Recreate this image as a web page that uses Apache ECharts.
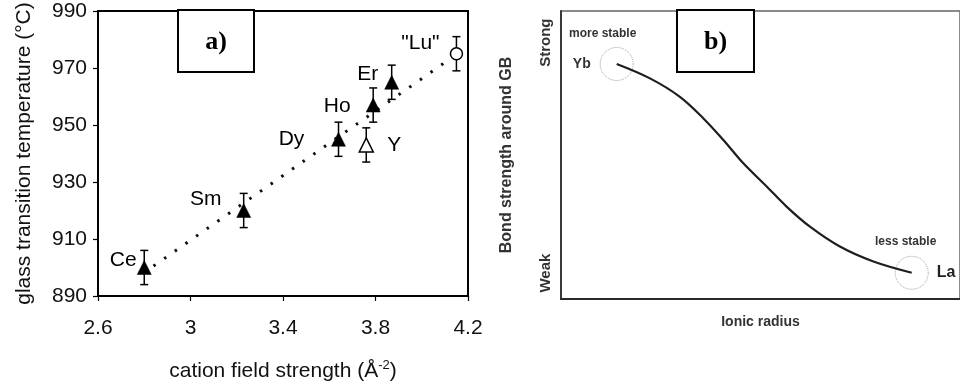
<!DOCTYPE html>
<html>
<head>
<meta charset="utf-8">
<title>Glass transition and GB bond strength</title>
<script src="https://cdn.jsdelivr.net/npm/echarts@6/dist/echarts.min.js"></script>
<style>
  html, body { margin: 0; padding: 0; background: #fff; }
  #chart { width: 960px; height: 389px; }
</style>
</head>
<body>
<div id="chart"></div>
<script>
// Panel a: glass transition temperature vs cation field strength
const elements = ['Ce', 'Sm', 'Dy', 'Ho', 'Er', 'Y', '"Lu"'];
const fieldStrength = [2.80, 3.23, 3.64, 3.79, 3.87, 3.76, 4.15];
const glassTransition = [900, 920, 945, 957, 965, 943, 975];
const tgError = [6, 6, 6, 6, 6, 6, 6];
const trendX = [2.84, 4.11];
const trendY = [900.5, 972.5];
const fieldTicks = [2.6, 3, 3.4, 3.8, 4.2];
const tempTicks = [890, 910, 930, 950, 970, 990];

// Panel b: schematic bond strength vs ionic radius
const radius = [13.96, 22.3, 29.8, 35.7, 40.7, 45.7, 51.6, 56.6, 62.4, 69.9, 78.3, 87.9];
const bondStrength = [81.6, 76.6, 70.2, 62.7, 55.2, 47.1, 39.0, 32.0, 25.1, 18.2, 13.0, 9.1];
const endLabels = ['Yb', 'La'];
const strengthLevels = [9, 89];
const strengthNames = ['Weak', 'Strong'];

// marker shape per element: hollow markers for Y and "Lu"
const hollowShape = { 'Y': 'triangle', '"Lu"': 'circle' };
// label offsets (px) from each marker centre
const labelShift = {
  'Ce': [-21, -7], 'Sm': [-38, -11], 'Dy': [-47, 0], 'Ho': [-36, 1],
  'Er': [-24, -8], 'Y': [28, 0], '"Lu"': [-36, -11]
};

const sans = 'Liberation Sans, Arial, sans-serif';
const grey = '#333';

const chart = echarts.init(document.getElementById('chart'), null, { renderer: 'canvas' });

const pointData = elements.map((name, i) => {
  const hollow = hollowShape[name];
  return {
    name: name,
    value: [fieldStrength[i], glassTransition[i]],
    symbol: hollow || 'triangle',
    symbolSize: hollow === 'circle' ? 12 : [14, 14],
    itemStyle: hollow
      ? { color: '#fff', borderColor: '#000', borderWidth: 1.5, opacity: 1 }
      : { color: '#000', borderColor: '#000', borderWidth: 0.5, opacity: 1 },
    label: {
      show: true,
      position: 'inside',
      offset: labelShift[name],
      formatter: name,
      color: '#000',
      textBorderWidth: 0,
      textBorderColor: 'transparent',
      fontFamily: sans,
      fontSize: 21
    }
  };
});

const errorData = elements.map((name, i) => [
  fieldStrength[i], glassTransition[i] - tgError[i], glassTransition[i] + tgError[i]
]);

const option = {
  animation: false,
  backgroundColor: '#fff',
  grid: [
    { left: 98, top: 11, width: 370, height: 285, show: true, borderColor: '#000', borderWidth: 2 },
    { left: 561, top: 11, width: 402, height: 288, show: true, borderColor: '#666', borderWidth: 1.5 }
  ],
  xAxis: [
    {
      gridIndex: 0, type: 'value', min: 2.6, max: 4.2, interval: 0.4,
      axisLine: { show: true, lineStyle: { color: '#000', width: 2 } },
      axisTick: { show: true, length: 5, lineStyle: { color: '#000', width: 1.2 } },
      axisLabel: { color: '#111', fontFamily: sans, fontSize: 21, margin: 22,
        formatter: v => String(fieldTicks.find(t => Math.abs(t - v) < 1e-6) ?? v) },
      splitLine: { show: false },
      name: 'cation field strength (Å{sup|-2})',
      nameLocation: 'middle', nameGap: 63,
      nameTextStyle: { color: '#111', fontFamily: sans, fontSize: 21,
        rich: { sup: { fontSize: 13, verticalAlign: 'top', padding: [0, 0, 11, 0], fontFamily: sans, color: '#111' } } }
    },
    {
      gridIndex: 1, type: 'value', min: 0, max: 100,
      axisLine: { show: true, lineStyle: { color: '#2a2a2a', width: 2 } },
      axisTick: { show: false }, axisLabel: { show: false }, splitLine: { show: false },
      name: 'Ionic radius', nameLocation: 'middle', nameGap: 16,
      nameTextStyle: { color: grey, fontFamily: sans, fontSize: 14, fontWeight: 'bold' }
    }
  ],
  yAxis: [
    {
      gridIndex: 0, type: 'value', min: tempTicks[0], max: tempTicks[tempTicks.length - 1], interval: 20,
      axisLine: { show: true, lineStyle: { color: '#000', width: 2 } },
      axisTick: { show: true, length: 5, lineStyle: { color: '#000', width: 1.2 } },
      axisLabel: { color: '#111', fontFamily: sans, fontSize: 21, margin: 11 },
      splitLine: { show: false },
      name: 'glass transition temperature (°C)',
      nameLocation: 'middle', nameGap: 63, nameRotate: 90,
      nameTextStyle: { color: '#111', fontFamily: sans, fontSize: 21 }
    },
    {
      gridIndex: 1, type: 'value', min: 0, max: 100,
      axisLine: { show: true, lineStyle: { color: '#3a3a3a', width: 2 } },
      axisTick: { show: false },
      axisLabel: {
        show: true, customValues: strengthLevels, rotate: 90, margin: 8,
        color: grey, fontFamily: sans, fontSize: 15, fontWeight: 'bold',
        formatter: v => strengthNames[strengthLevels.indexOf(v)]
      },
      splitLine: { show: false },
      name: 'Bond strength around GB',
      nameLocation: 'middle', nameGap: 46, nameRotate: 90,
      nameTextStyle: { color: grey, fontFamily: sans, fontSize: 16, fontWeight: 'bold' }
    }
  ],
  series: [
    {
      type: 'line', xAxisIndex: 0, yAxisIndex: 0, z: 1,
      data: trendX.map((x, i) => [x, trendY[i]]),
      symbol: 'none',
      lineStyle: { color: '#111', width: 3, type: [2.5, 10.5], cap: 'butt' }
    },
    {
      type: 'custom', xAxisIndex: 0, yAxisIndex: 0, z: 2,
      data: errorData,
      renderItem: (params, api) => {
        const x = api.value(0);
        const lo = api.coord([x, api.value(1)]);
        const hi = api.coord([x, api.value(2)]);
        const w = 4;
        const st = { stroke: '#000', lineWidth: 1.5 };
        return {
          type: 'group',
          children: [
            { type: 'line', shape: { x1: hi[0], y1: hi[1], x2: lo[0], y2: lo[1] }, style: st },
            { type: 'line', shape: { x1: hi[0] - w, y1: hi[1], x2: hi[0] + w, y2: hi[1] }, style: st },
            { type: 'line', shape: { x1: lo[0] - w, y1: lo[1], x2: lo[0] + w, y2: lo[1] }, style: st }
          ]
        };
      }
    },
    {
      type: 'scatter', xAxisIndex: 0, yAxisIndex: 0, z: 3,
      itemStyle: { opacity: 1 },
      data: pointData
    },
    {
      type: 'line', xAxisIndex: 1, yAxisIndex: 1, z: 2,
      data: radius.map((x, i) => [x, bondStrength[i]]),
      smooth: 0.35, symbol: 'none',
      lineStyle: { color: '#1e1e1e', width: 2.2 }
    },
    {
      type: 'scatter', xAxisIndex: 1, yAxisIndex: 1, z: 1,
      symbol: 'circle', symbolSize: 33,
      itemStyle: { color: 'rgba(255,255,255,0)', borderColor: '#a0a0a0', borderWidth: 1, borderType: 'dotted', opacity: 1 },
      data: [
        { name: endLabels[0], value: [radius[0], bondStrength[0]],
          label: { show: true, position: 'left', distance: 9, formatter: endLabels[0],
            color: grey, fontFamily: sans, fontSize: 14, fontWeight: 'bold' } },
        { name: endLabels[1], value: [radius[radius.length - 1], bondStrength[bondStrength.length - 1]],
          label: { show: true, position: 'right', distance: 8, formatter: endLabels[1],
            color: '#222', fontFamily: sans, fontSize: 16, fontWeight: 'bold' } }
      ]
    }
  ],
  graphic: [
    {
      type: 'group', left: 177, top: 9, z: 100,
      children: [
        { type: 'rect', shape: { x: 0, y: 0, width: 76, height: 62 },
          style: { fill: '#fff', stroke: '#000', lineWidth: 2 } },
        { type: 'text', x: 38, y: 32,
          style: { text: 'a)', fill: '#000', font: 'bold 26px "Liberation Serif", "Times New Roman", serif',
            align: 'center', verticalAlign: 'middle' } }
      ]
    },
    {
      type: 'group', left: 676, top: 9, z: 100,
      children: [
        { type: 'rect', shape: { x: 0, y: 0, width: 77, height: 62 },
          style: { fill: '#fff', stroke: '#000', lineWidth: 2 } },
        { type: 'text', x: 38.5, y: 32,
          style: { text: 'b)', fill: '#000', font: 'bold 26px "Liberation Serif", "Times New Roman", serif',
            align: 'center', verticalAlign: 'middle' } }
      ]
    },
    {
      type: 'text', left: 569, top: 28, z: 100,
      style: { text: 'more stable', fill: grey, font: 'bold 12px "Liberation Sans", Arial, sans-serif' }
    },
    {
      type: 'text', left: 875, top: 236, z: 100,
      style: { text: 'less stable', fill: grey, font: 'bold 12px "Liberation Sans", Arial, sans-serif' }
    }
  ]
};

chart.setOption(option);
</script>
</body>
</html>
